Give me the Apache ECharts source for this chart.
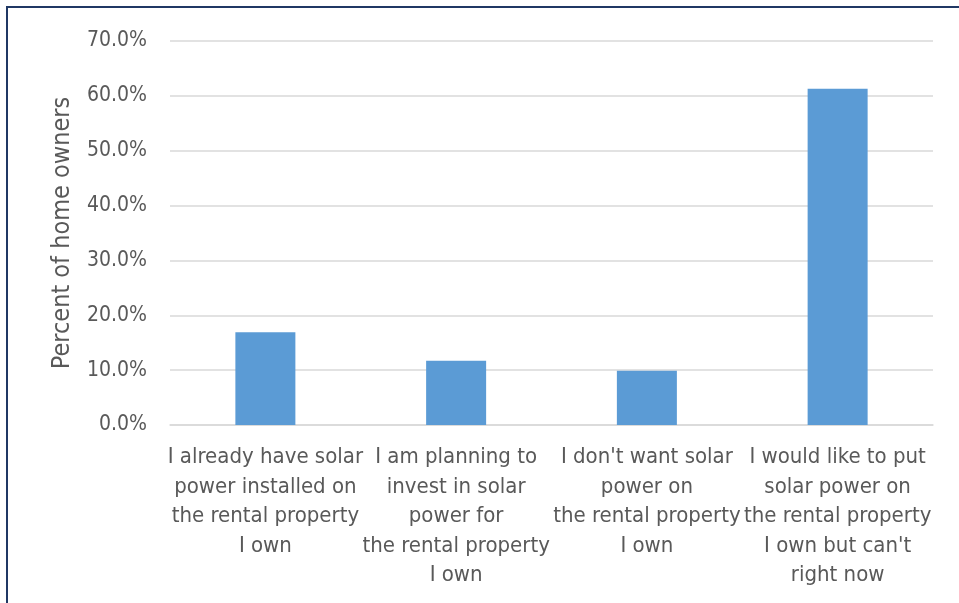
<!DOCTYPE html>
<html>
<head>
<meta charset="utf-8">
<script src="https://cdn.jsdelivr.net/npm/echarts@6/dist/echarts.min.js"></script>
<style>
  html, body { margin: 0; padding: 0; background: #ffffff; }
  #chart { width: 959px; height: 603px; }
</style>
</head>
<body>
<div id="chart"></div>
<script>
// Survey answers from owners of rental property
const categories = [
  "I already have solar\npower installed on\nthe rental property\nI own",
  "I am planning to\ninvest in solar\npower for\nthe rental property\nI own",
  "I don't want solar\npower on\nthe rental property\nI own",
  "I would like to put\nsolar power on\nthe rental property\nI own but can't\nright now"
];
const shares = [16.9, 11.7, 9.9, 61.3];
const yTicks = { min: 0, max: 70, step: 10 };

const FONT = "'Liberation Sans Narrow', 'DejaVu Sans Condensed', sans-serif";
const GREY = '#595959';

const chart = echarts.init(document.getElementById('chart'), null, { renderer: 'canvas' });
chart.setOption({
  animation: false,
  backgroundColor: '#ffffff',
  grid: { left: 170, right: 26, top: 41, bottom: 178, containLabel: false },
  xAxis: {
    type: 'category',
    data: categories,
    axisLine: { show: true, lineStyle: { color: '#d9d9d9', width: 1.5 } },
    axisTick: { show: false },
    axisLabel: {
      interval: 0,
      margin: 18,
      color: GREY,
      fontFamily: FONT,
      fontSize: 22,
      lineHeight: 29.5,
      align: 'center'
    }
  },
  yAxis: {
    type: 'value',
    min: yTicks.min,
    max: yTicks.max,
    interval: yTicks.step,
    name: 'Percent of home owners',
    nameLocation: 'middle',
    nameGap: 95,
    nameRotate: 90,
    nameTextStyle: { color: GREY, fontFamily: FONT, fontSize: 25 },
    axisLine: { show: false },
    axisTick: { show: false },
    axisLabel: {
      margin: 23,
      color: GREY,
      fontFamily: FONT,
      fontSize: 21,
      formatter: v => v.toFixed(1) + '%'
    },
    splitLine: { lineStyle: { color: '#d9d9d9', width: 1.5 } }
  },
  series: [{
    type: 'bar',
    data: shares,
    barWidth: 60,
    itemStyle: { color: '#5b9bd5' }
  }],
  graphic: [{
    type: 'rect',
    silent: true,
    z: 100,
    shape: { x: 7, y: 7, width: 1000, height: 700 },
    style: { fill: 'none', stroke: '#203864', lineWidth: 2 }
  }]
});
</script>
</body>
</html>
